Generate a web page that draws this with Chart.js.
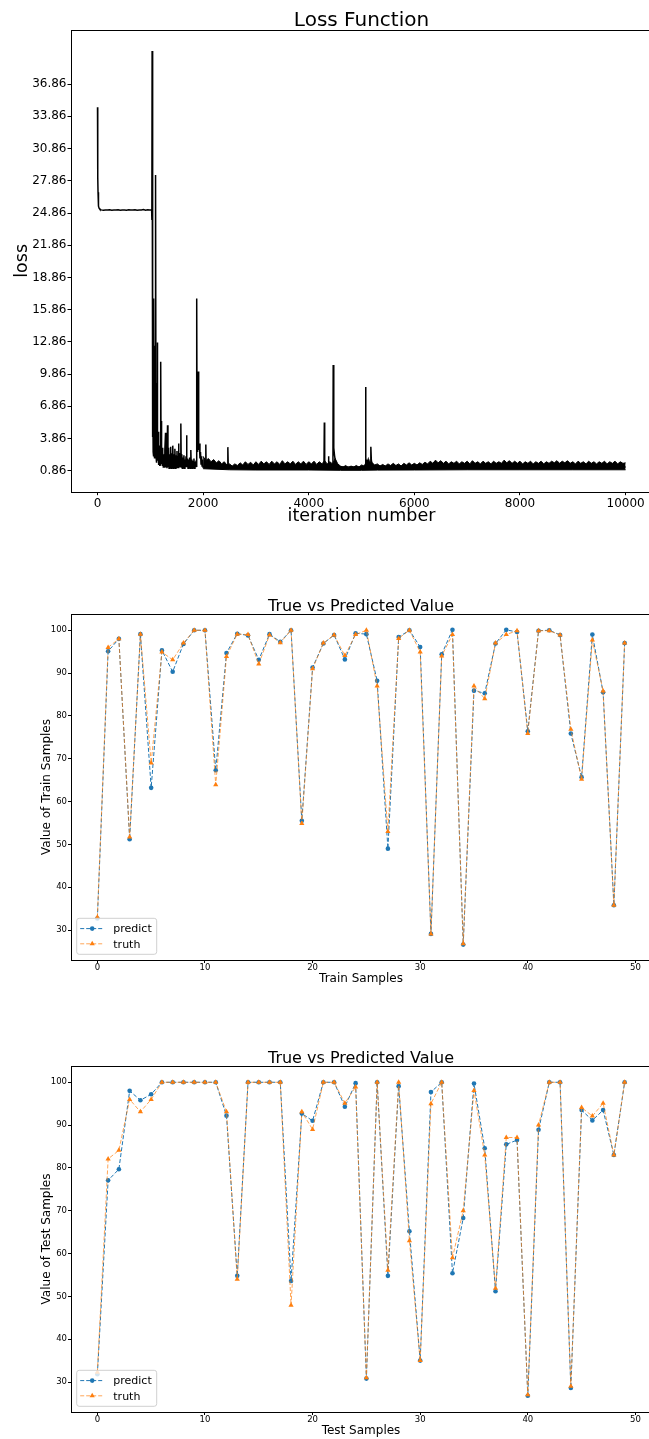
<!DOCTYPE html>
<html>
<head>
<meta charset="utf-8">
<title>Loss and predictions</title>
<script src="https://cdn.jsdelivr.net/npm/chart.js@4.4.1/dist/chart.umd.min.js"></script>
<style>
    html, body { margin: 0; padding: 0; background: #fff; overflow: hidden; }
    body { position: relative; width: 649px; height: 1439px; }
    canvas { position: absolute; left: 0; }
    #loss-graph { top: 0; }
    #train-graph { top: 560px; }
    #test-graph { top: 1012px; }
</style>
</head>
<body>
<canvas id="loss-graph" width="660" height="530"></canvas>
<canvas id="train-graph" width="660" height="440"></canvas>
<canvas id="test-graph" width="660" height="440"></canvas>
<script>
// loss curve, [iteration, loss]
const lossStart = [
    [0, 34.7], [3, 30.4], [6, 28.2], [10, 26.8], [15, 25.9], [22, 25.5], [30, 25.3], [45, 25.2],
    [70, 25.15], [110, 25.12], [150, 25.15], [190, 25.13], [230, 25.16], [270, 25.12], [310, 25.15],
    [350, 25.14], [390, 25.17], [430, 25.12], [470, 25.15], [510, 25.14], [550, 25.12], [590, 25.16],
    [630, 25.13], [670, 25.15], [710, 25.17], [750, 25.12], [790, 25.15], [830, 25.14], [870, 25.18],
    [910, 25.12], [950, 25.16], [990, 25.14], [1025, 25.15]
];
const lossDrop = [
    [1028, 24.2], [1031, 25.1], [1034, 39.95], [1038, 12.0], [1042, 22.0], [1046, 4.0], [1050, 9.5],
    [1054, 2.6], [1058, 7.0], [1062, 2.2], [1066, 16.9], [1070, 3.0], [1074, 8.0], [1078, 2.0],
    [1082, 12.5], [1086, 2.8], [1090, 6.5], [1094, 2.0], [1098, 16.5], [1101, 3.0], [1104, 28.4],
    [1108, 2.2], [1112, 9.0], [1116, 1.8], [1120, 6.0], [1124, 1.6], [1128, 4.5], [1132, 1.8],
    [1136, 12.8], [1140, 2.0], [1146, 4.5], [1152, 1.5], [1158, 3.8], [1164, 1.4], [1170, 3.2],
    [1176, 1.3], [1182, 2.9], [1188, 1.4], [1194, 3.5], [1199, 11.0], [1204, 2.2], [1210, 5.5],
    [1216, 1.5], [1222, 3.0], [1230, 1.3], [1238, 2.6], [1246, 1.2]
];
const lossEarly = [
    [1255, 2.4], [1265, 1.2], [1275, 2.8], [1288, 4.4], [1296, 1.2], [1305, 2.6], [1315, 1.1],
    [1326, 5.1], [1334, 1.2], [1345, 3.0], [1355, 1.1], [1365, 2.4], [1375, 1.2], [1385, 3.1],
    [1395, 1.1], [1405, 2.5], [1415, 1.2], [1425, 3.2], [1435, 1.1], [1445, 2.4], [1455, 1.2],
    [1465, 2.9], [1475, 1.1], [1485, 2.3], [1495, 1.2], [1505, 2.7], [1515, 1.1], [1525, 2.2],
    [1534, 3.4], [1542, 1.1], [1552, 2.5], [1562, 1.2], [1570, 2.0], [1578, 5.26], [1586, 1.2],
    [1596, 2.4], [1606, 1.1], [1616, 2.1], [1626, 1.2], [1636, 2.3], [1646, 1.1], [1656, 1.9],
    [1666, 1.2], [1676, 2.2], [1686, 4.16], [1694, 1.2], [1704, 2.0], [1714, 1.1], [1724, 1.9],
    [1734, 1.2], [1744, 2.1], [1754, 1.1], [1767, 2.8], [1776, 1.2], [1786, 1.9], [1796, 1.1],
    [1806, 1.8], [1816, 1.2], [1826, 2.0], [1836, 1.1], [1846, 1.7], [1856, 1.2], [1866, 1.8],
    [1876, 1.2], [1881, 16.9], [1886, 3.0], [1892, 6.5], [1898, 2.6], [1906, 10.1], [1912, 4.2],
    [1920, 2.8], [1930, 3.4], [1940, 2.0], [1950, 2.6], [1960, 1.5], [1970, 2.2], [1980, 1.3],
    [1990, 1.9], [2000, 1.2]
];
// isolated spikes after 2000 iterations
const lossSpikes = [
    [2045, 1.3], [2051, 3.3], [2057, 1.3], [2460, 1.2], [2468, 3.06], [2476, 1.2],
    [4288, 1.2], [4295, 5.36], [4302, 1.2], [4370, 1.3], [4375, 2.21], [4380, 1.3],
    [4458, 1.3], [4463, 10.71], [4470, 4.5], [4478, 3.0], [4488, 2.3], [4500, 1.9], [4520, 1.5],
    [4560, 1.2], [5070, 1.2], [5076, 8.66], [5084, 2.0], [5100, 1.6], [5125, 1.9], [5140, 1.4],
    [5170, 1.4], [5176, 3.09], [5186, 1.8], [5210, 1.3], [10000, 1.2]
];
// upper and lower edge of the dense noise band after 2000 iterations
const lossBandTop = [
    [2000, 2.2], [2050, 1.8], [2100, 2.0], [2150, 1.7], [2200, 1.9], [2250, 1.6], [2300, 1.8],
    [2350, 1.5], [2400, 1.7], [2450, 1.4], [2500, 1.5], [2550, 1.3], [2600, 1.5], [2650, 1.35],
    [2700, 1.6], [2750, 1.4], [2800, 1.7], [2850, 1.45], [2900, 1.65], [2950, 1.4], [3000, 1.7],
    [3050, 1.45], [3100, 1.75], [3150, 1.5], [3200, 1.7], [3250, 1.45], [3300, 1.75], [3350, 1.5],
    [3400, 1.7], [3450, 1.45], [3500, 1.8], [3550, 1.5], [3600, 1.7], [3650, 1.5], [3700, 1.75],
    [3750, 1.45], [3800, 1.7], [3850, 1.5], [3900, 1.75], [3950, 1.45], [4000, 1.7], [4050, 1.5],
    [4100, 1.75], [4150, 1.45], [4200, 1.7], [4250, 1.5], [4300, 1.8], [4350, 1.5], [4400, 1.7],
    [4450, 1.5], [4500, 2.0], [4550, 1.5], [4600, 1.3], [4650, 1.2], [4700, 1.35], [4750, 1.15],
    [4800, 1.3], [4850, 1.2], [4900, 1.35], [4950, 1.2], [5000, 1.4], [5050, 1.3], [5100, 1.8],
    [5150, 1.7], [5200, 1.6], [5250, 1.4], [5300, 1.5], [5350, 1.3], [5400, 1.45], [5450, 1.3],
    [5500, 1.5], [5550, 1.35], [5600, 1.55], [5650, 1.35], [5700, 1.5], [5750, 1.3], [5800, 1.55],
    [5850, 1.4], [5900, 1.6], [5950, 1.4], [6000, 1.55], [6050, 1.4], [6100, 1.6], [6150, 1.45],
    [6200, 1.65], [6250, 1.5], [6300, 1.75], [6350, 1.55], [6400, 1.85], [6450, 1.6], [6500, 1.8],
    [6550, 1.55], [6600, 1.75], [6650, 1.5], [6700, 1.7], [6750, 1.55], [6800, 1.75], [6850, 1.5],
    [6900, 1.7], [6950, 1.55], [7000, 1.75], [7050, 1.5], [7100, 1.8], [7150, 1.55], [7200, 1.7],
    [7250, 1.5], [7300, 1.75], [7350, 1.55], [7400, 1.7], [7450, 1.5], [7500, 1.75], [7550, 1.55],
    [7600, 1.7], [7650, 1.55], [7700, 1.85], [7750, 1.6], [7800, 1.8], [7850, 1.55], [7900, 1.75],
    [7950, 1.55], [8000, 1.75], [8050, 1.5], [8100, 1.7], [8150, 1.55], [8200, 1.75], [8250, 1.5],
    [8300, 1.7], [8350, 1.55], [8400, 1.75], [8450, 1.5], [8500, 1.7], [8550, 1.55], [8600, 1.75],
    [8650, 1.6], [8700, 1.8], [8750, 1.55], [8800, 1.75], [8850, 1.6], [8900, 1.8], [8950, 1.55],
    [9000, 1.7], [9050, 1.5], [9100, 1.75], [9150, 1.55], [9200, 1.7], [9250, 1.5], [9300, 1.75],
    [9350, 1.55], [9400, 1.7], [9450, 1.5], [9500, 1.7], [9550, 1.55], [9600, 1.75], [9650, 1.5],
    [9700, 1.7], [9750, 1.55], [9800, 1.75], [9850, 1.5], [9900, 1.7], [9950, 1.55], [10000, 1.6]
];
const lossBandBottom = [
    [2000, 1.05], [2500, 0.95], [3000, 0.93], [4000, 0.93], [4600, 0.9], [5000, 0.9],
    [5300, 0.92], [6000, 0.93], [7000, 0.95], [8000, 0.95], [9000, 0.95], [10000, 0.95]
];

const lossYTicks = [0.86, 3.86, 6.86, 9.86, 12.86, 15.86, 18.86, 21.86, 24.86, 27.86, 30.86, 33.86, 36.86];
const lossXTicks = [0, 2000, 4000, 6000, 8000, 10000];
const sampleXTicks = [0, 10, 20, 30, 40, 50];
const sampleYTicks = [30, 40, 50, 60, 70, 80, 90, 100];

const trainPredict = [32.7, 95.1, 98.0, 51.2, 99.1, 63.2, 95.3, 90.3, 96.8, 100.0,
    100.0, 67.3, 94.7, 99.2, 98.8, 93.1, 99.1, 97.3, 100.0, 55.5,
    91.3, 96.9, 98.9, 93.2, 99.3, 99.1, 88.2, 49.0, 98.4, 100.0,
    96.1, 29.1, 94.4, 100.1, 26.6, 85.9, 85.3, 96.9, 100.1, 99.6,
    76.4, 99.9, 100.0, 98.9, 75.9, 65.7, 99.0, 85.5, 35.8, 97.0];
const trainTruth = [33.0, 96.0, 98.0, 51.7, 99.1, 69.0, 94.9, 93.1, 97.0, 100.0,
    100.0, 63.9, 93.9, 99.1, 99.0, 92.1, 98.9, 97.1, 100.0, 54.9,
    91.0, 97.0, 98.9, 94.1, 99.0, 100.0, 87.0, 53.0, 98.1, 100.0,
    94.9, 29.1, 94.0, 99.0, 26.8, 87.0, 84.0, 97.0, 99.0, 99.9,
    75.9, 99.9, 99.9, 98.9, 76.9, 65.2, 97.7, 85.8, 35.8, 97.0];
const testPredict = [31.8, 77.1, 79.7, 98.0, 95.8, 97.2, 100.0, 100.0, 100.0, 100.0,
    100.0, 100.0, 92.2, 54.8, 100.0, 100.0, 100.0, 100.0, 53.6, 92.7,
    91.0, 100.0, 100.0, 94.3, 99.8, 30.8, 100.0, 54.8, 99.1, 65.2,
    35.0, 97.7, 100.0, 55.4, 68.3, 99.7, 84.6, 51.2, 85.5, 86.5,
    26.8, 88.9, 100.0, 100.0, 28.6, 93.5, 91.1, 93.5, 83.0, 100.0];
const testTruth = [32.3, 82.1, 84.1, 96.0, 93.1, 96.0, 100.0, 100.0, 100.0, 100.0,
    100.0, 100.0, 93.1, 54.0, 100.0, 100.0, 100.0, 100.0, 47.9, 93.1,
    89.0, 100.0, 100.0, 95.1, 98.9, 31.0, 100.0, 56.1, 100.0, 63.0,
    35.0, 95.0, 100.0, 59.0, 70.0, 98.1, 83.0, 51.9, 87.1, 87.1,
    27.0, 90.0, 100.0, 100.0, 29.0, 94.1, 92.1, 95.1, 83.0, 100.0];

const FONT = "'DejaVu Sans', sans-serif";
Chart.defaults.font.family = FONT;
Chart.defaults.color = '#000';

const BLUE = '#1f77b4';
const ORANGE = '#ff7f0e';

// spines on all four sides, title and axis labels (matplotlib look)
const framePlugin = {
    id: 'frame',
    afterDraw(chart, args, opts) {
        const ctx = chart.ctx;
        const a = chart.chartArea;
        ctx.save();
        ctx.strokeStyle = '#000';
        ctx.lineWidth = 1;
        ctx.strokeRect(Math.round(a.left) + 0.5, Math.round(a.top) + 0.5,
            Math.round(a.right - a.left), Math.round(a.bottom - a.top));
        ctx.fillStyle = '#000';
        ctx.textAlign = 'center';
        ctx.textBaseline = 'alphabetic';
        const cx = (a.left + a.right) / 2;
        ctx.font = opts.titleSize + 'px ' + FONT;
        ctx.fillText(opts.title, cx, opts.titleY);
        ctx.font = opts.labelSize + 'px ' + FONT;
        ctx.fillText(opts.xLabel, cx, opts.xLabelY);
        ctx.translate(opts.yLabelX, (a.top + a.bottom) / 2);
        ctx.rotate(-Math.PI / 2);
        ctx.fillText(opts.yLabel, 0, 0);
        ctx.restore();
    }
};

// legend box in the lower left corner with dashed line + marker samples
const cornerLegend = {
    id: 'cornerLegend',
    afterDraw(chart, args, opts) {
        if (!opts.show) return;
        const ctx = chart.ctx;
        const a = chart.chartArea;
        const w = 80, h = 36;
        const x0 = a.left + 5.7, y0 = a.bottom - 5.7 - h;
        ctx.save();
        ctx.beginPath();
        ctx.roundRect(x0, y0, w, h, 2.5);
        ctx.fillStyle = 'rgba(255,255,255,0.8)';
        ctx.fill();
        ctx.strokeStyle = '#d0d0d0';
        ctx.lineWidth = 1;
        ctx.stroke();
        const rows = [y0 + 10.3, y0 + 25.5];
        chart.data.datasets.forEach((ds, i) => {
            const y = rows[i];
            ctx.beginPath();
            ctx.setLineDash(ds.borderDash);
            ctx.strokeStyle = ds.borderColor;
            ctx.lineWidth = ds.borderWidth;
            ctx.moveTo(x0 + 3.5, y);
            ctx.lineTo(x0 + 27, y);
            ctx.stroke();
            ctx.setLineDash([]);
            ctx.fillStyle = ds.pointBackgroundColor;
            ctx.beginPath();
            if (ds.pointStyle === 'triangle') {
                const r = ds.pointRadius;
                ctx.moveTo(x0 + 15.5, y - r);
                ctx.lineTo(x0 + 15.5 + r * 0.866, y + r * 0.5);
                ctx.lineTo(x0 + 15.5 - r * 0.866, y + r * 0.5);
                ctx.closePath();
            } else {
                ctx.arc(x0 + 15.5, y, ds.pointRadius, 0, Math.PI * 2);
            }
            ctx.fill();
            ctx.fillStyle = '#000';
            ctx.font = '11px ' + FONT;
            ctx.textAlign = 'left';
            ctx.textBaseline = 'alphabetic';
            ctx.fillText(ds.label, x0 + 36.6, y + 3.8);
        });
        ctx.restore();
    }
};

function fixedTicks(values) {
    return function(scale) {
        scale.ticks = values.map(v => ({ value: v }));
    };
}

function axis(min, max, ticks, fontSize, tickLen, pad, size, isY, fmt) {
    return {
        type: 'linear',
        min: min,
        max: max,
        afterBuildTicks: fixedTicks(ticks),
        afterFit: function(scale) {
            if (isY) scale.width = size; else scale.height = size;
        },
        border: { display: false },
        grid: {
            drawOnChartArea: false,
            drawTicks: true,
            tickLength: tickLen,
            tickColor: '#000',
            lineWidth: 1
        },
        ticks: {
            autoSkip: false,
            maxRotation: 0,
            padding: pad,
            color: '#000',
            font: { size: fontSize },
            callback: fmt
        }
    };
}

const toXY = p => ({ x: p[0], y: p[1] });
const lossLine = [].concat(lossStart, lossDrop, lossEarly, lossSpikes).map(toXY);

new Chart('loss-graph', {
    type: 'line',
    data: {
        datasets: [{
            label: 'loss',
            data: lossLine,
            borderColor: '#000',
            borderWidth: 1.5,
            pointRadius: 0,
            tension: 0,
            fill: false
        }, {
            label: 'band top',
            data: lossBandTop.map(toXY),
            borderColor: '#000',
            borderWidth: 1,
            backgroundColor: '#000',
            pointRadius: 0,
            tension: 0,
            fill: '+1'
        }, {
            label: 'band bottom',
            data: lossBandBottom.map(toXY),
            borderColor: '#000',
            borderWidth: 1,
            pointRadius: 0,
            tension: 0,
            fill: false
        }]
    },
    options: {
        responsive: false,
        animation: false,
        layout: { autoPadding: false, padding: { left: 0, top: 30, right: 8, bottom: 0 } },
        plugins: {
            legend: { display: false },
            tooltip: { enabled: false },
            frame: {
                title: 'Loss Function', titleSize: 20, titleY: 26.4,
                xLabel: 'iteration number', xLabelY: 520.5,
                yLabel: 'loss', yLabelX: 27.3, labelSize: 17.5
            },
            cornerLegend: { show: false }
        },
        scales: {
            x: axis(-502, 10500, lossXTicks, 12, 3.5, 1, 530 - 491.7, false, v => String(v)),
            y: axis(-1.09, 41.9, lossYTicks, 12, 3.5, 1, 71, true, v => v.toFixed(2))
        }
    },
    plugins: [framePlugin, cornerLegend]
});

function sampleChart(id, predict, truth, xLabel, yLabel) {
    const pts = arr => arr.map((v, i) => ({ x: i, y: v }));
    return new Chart(id, {
        type: 'line',
        data: {
            datasets: [{
                label: 'predict',
                data: pts(predict),
                borderColor: BLUE,
                borderWidth: 1,
                borderDash: [4, 2],
                pointStyle: 'circle',
                pointRadius: 2.3,
                pointBackgroundColor: BLUE,
                pointBorderColor: BLUE,
                pointBorderWidth: 0,
                tension: 0,
                order: 2
            }, {
                label: 'truth',
                data: pts(truth),
                borderColor: 'rgba(255, 127, 14, 0.7)',
                borderWidth: 1,
                borderDash: [4, 2],
                pointStyle: 'triangle',
                pointRadius: 3,
                pointBackgroundColor: ORANGE,
                pointBorderColor: ORANGE,
                pointBorderWidth: 0,
                tension: 0,
                order: 1
            }]
        },
        options: {
            responsive: false,
            animation: false,
            layout: { autoPadding: false, padding: { left: 0, top: 54, right: 9, bottom: 0 } },
            plugins: {
                legend: { display: false },
                tooltip: { enabled: false },
                frame: {
                    title: 'True vs Predicted Value', titleSize: 16, titleY: 50.7,
                    xLabel: xLabel, xLabelY: 422.3,
                    yLabel: yLabel, yLabelX: 50, labelSize: 12
                },
                cornerLegend: { show: true }
            },
            scales: {
                x: axis(-2.45, 51.45, sampleXTicks, 8.5, 3, 0, 40, false, v => String(v)),
                y: axis(23.0, 103.8, sampleYTicks, 8.5, 3, 1, 71, true, v => String(v))
            }
        },
        plugins: [framePlugin, cornerLegend]
    });
}

document.addEventListener('DOMContentLoaded', () => {
    sampleChart('train-graph', trainPredict, trainTruth, 'Train Samples', 'Value of Train Samples');
    sampleChart('test-graph', testPredict, testTruth, 'Test Samples', 'Value of Test Samples');
});
</script>
</body>
</html>
